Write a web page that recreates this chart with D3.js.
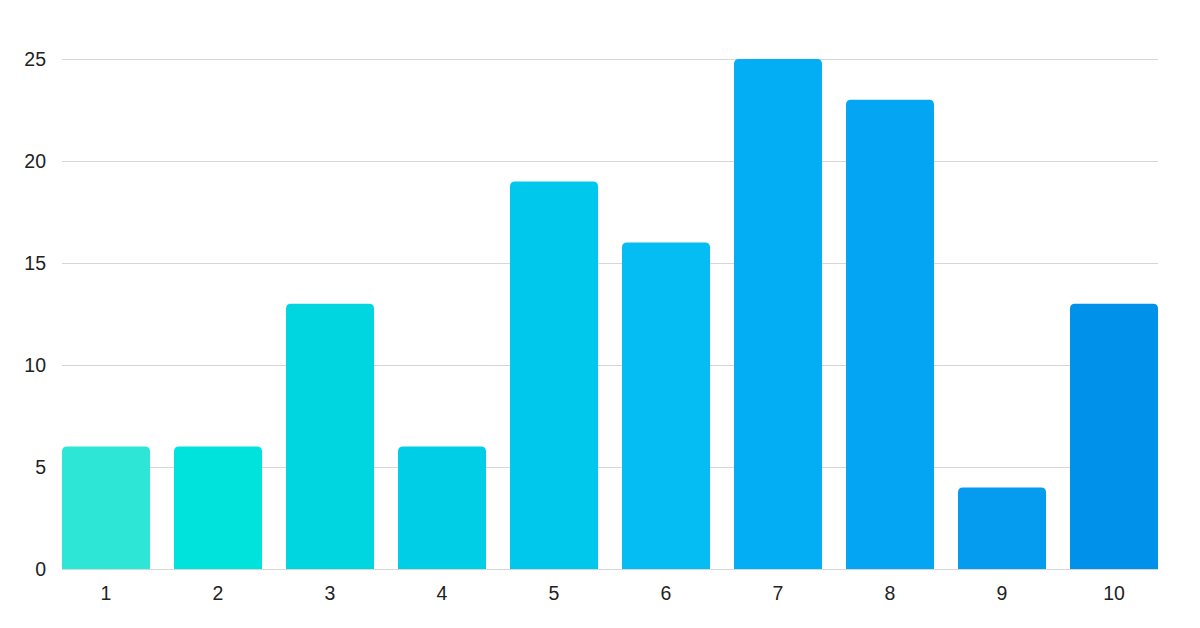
<!DOCTYPE html>
<html><head><meta charset="utf-8">
<script src="https://cdn.jsdelivr.net/npm/d3@7"></script>
<style>html,body{margin:0;padding:0;background:#fff;}svg{display:block;}</style>
</head><body>
<svg id="chart" width="1200" height="628"></svg>
<script>
const categories = ["1","2","3","4","5","6","7","8","9","10"];
const values = [6, 6, 13, 6, 19, 16, 25, 23, 4, 13];
const colors = ["#2ee6d6","#00e2dc","#00d6e0","#00cee6","#00c7ec","#05bdf2","#03aef5","#04a6f3","#059cef","#0091ea"];
const yTicks = [0, 5, 10, 15, 20, 25];

const svg = d3.select("#chart");
const x = d3.scaleBand().domain(categories).range([62, 1158]).paddingInner(24/112).paddingOuter(0);
const y = d3.scaleLinear().domain([0, 25]).range([569, 59]);
const font = "'Liberation Sans', Arial, sans-serif";

svg.append("g").selectAll("line").data(yTicks).join("line")
  .attr("x1", 62).attr("x2", 1158)
  .attr("y1", d => y(d) + 0.5).attr("y2", d => y(d) + 0.5)
  .attr("stroke", "#d6d6d6").attr("stroke-width", 1);

svg.append("g").selectAll("text").data(yTicks).join("text")
  .attr("x", 46).attr("y", d => y(d)).attr("dy", "0.35em")
  .attr("text-anchor", "end").attr("font-family", font).attr("font-size", 19.5)
  .attr("fill", "#222").text(d => d);

const r = 5;
function barPath(x0, w, yTop, yBot) {
  const rr = Math.min(r, (yBot - yTop));
  return `M${x0},${yBot}V${yTop + rr}Q${x0},${yTop} ${x0 + rr},${yTop}H${x0 + w - rr}Q${x0 + w},${yTop} ${x0 + w},${yTop + rr}V${yBot}Z`;
}

svg.append("g").selectAll("path").data(values).join("path")
  .attr("d", (d, i) => barPath(x(categories[i]), x.bandwidth(), y(d), y(0)))
  .attr("fill", (d, i) => colors[i]);

svg.append("g").selectAll("text").data(categories).join("text")
  .attr("x", d => x(d) + x.bandwidth() / 2).attr("y", 593).attr("dy", "0.35em")
  .attr("text-anchor", "middle").attr("font-family", font).attr("font-size", 19.5)
  .attr("fill", "#222").text(d => d);
</script>
</body></html>
